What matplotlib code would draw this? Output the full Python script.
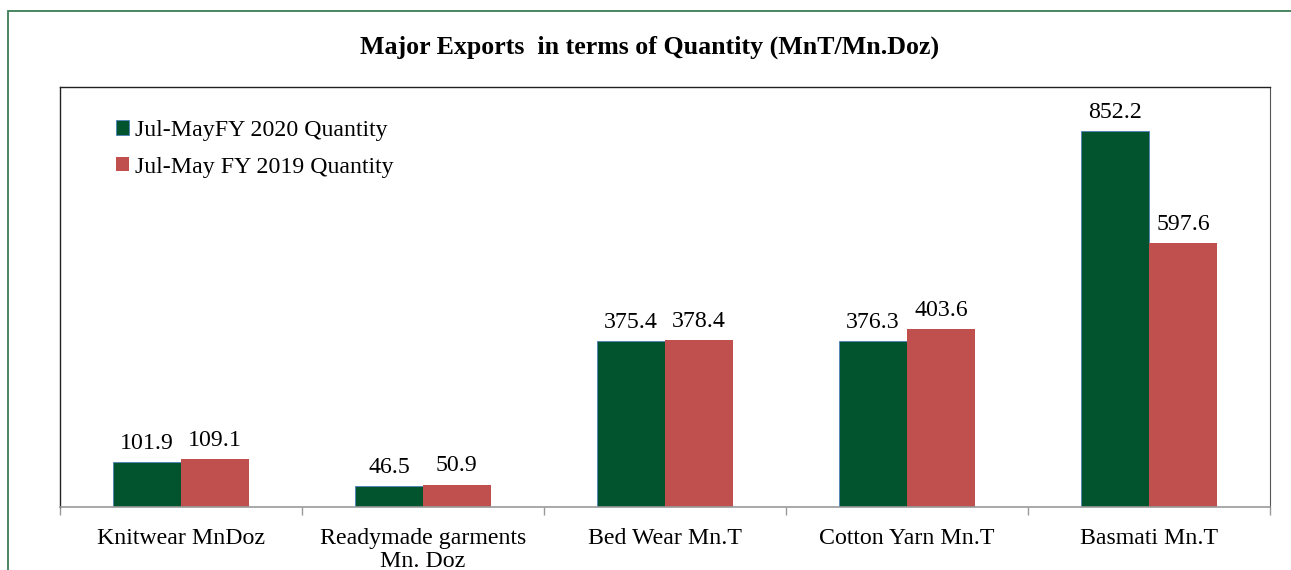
import matplotlib
matplotlib.use("Agg")
import matplotlib.pyplot as plt
import numpy as np
from matplotlib.patches import Rectangle

categories = ["Knitwear MnDoz", "Readymade garments\nMn. Doz", "Bed Wear Mn.T",
              "Cotton Yarn Mn.T", "Basmati Mn.T"]
fy2020 = [101.9, 46.5, 375.4, 376.3, 852.2]
fy2019 = [109.1, 50.9, 378.4, 403.6, 597.6]
series_names = ["Jul-MayFY 2020 Quantity", "Jul-May FY 2019 Quantity"]
title = "Major Exports  in terms of Quantity (MnT/Mn.Doz)"

plt.rcParams['font.family'] = ['Liberation Serif', 'DejaVu Serif']

W, H = 1291, 570
fig = plt.figure(figsize=(W / 100, H / 100), dpi=100)
fig.patches.append(Rectangle((8 / W, -0.1), 1.2, 1 - 11 / H + 0.1, transform=fig.transFigure,
                             fill=False, edgecolor='#3A7D55', linewidth=1.3))

ax = fig.add_axes([60 / W, 1 - 507 / H, (1270 - 60) / W, (507 - 87) / H])
x = np.arange(len(categories))
w = 0.28
green = '#01542E'
red = '#C0504D'
b1 = ax.bar(x - w / 2, fy2020, w, color=green, edgecolor='#4F81BD', linewidth=0.6, label=series_names[0])
b2 = ax.bar(x + w / 2, fy2019, w, color=red, linewidth=0, label=series_names[1])

fs = 17.2
for bars, vals in ((b1, fy2020), (b2, fy2019)):
    for r, v in zip(bars, vals):
        ax.annotate(f"{v:.1f}", (r.get_x() + r.get_width() / 2, v), xytext=(0, 6),
                    textcoords='offset points', ha='center', va='bottom', fontsize=fs)

ax.set_xlim(-0.5, len(categories) - 0.5)
ax.set_ylim(0, 952)
ax.set_yticks([])
ax.set_xticks(x)
ax.set_xticklabels(categories, fontsize=fs, linespacing=1.15)
ax.tick_params(axis='x', which='major', length=0, pad=15)
ax.set_xticks(np.arange(-0.5, len(categories), 1.0), minor=True)
ax.tick_params(axis='x', which='minor', length=6, color='#999999', width=1)

for s in ('left', 'top'):
    ax.spines[s].set_color('#222222')
    ax.spines[s].set_linewidth(1.0)
ax.spines['right'].set_color('#555555')
ax.spines['bottom'].set_color('#999999')
ax.spines['bottom'].set_linewidth(1.2)

leg = ax.legend(loc='upper left', bbox_to_anchor=(0.046, 0.922), frameon=False, fontsize=fs,
                handlelength=0.55, handleheight=0.55, handletextpad=0.25, labelspacing=0.66,
                borderaxespad=0, borderpad=0)

fig.text(0.503, 1 - 47 / H, title, ha='center', va='center', fontsize=18.6, fontweight='bold')

fig.savefig("out.png", dpi=100)
